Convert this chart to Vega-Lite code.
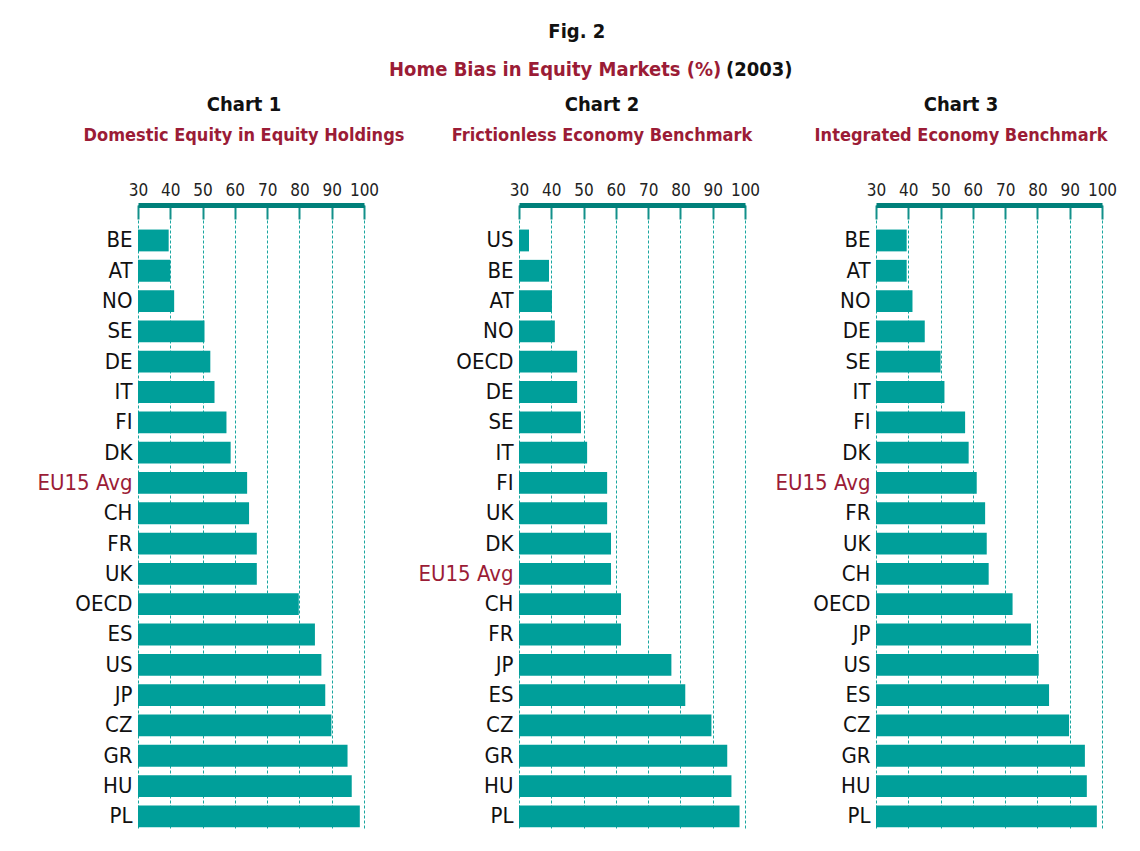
{
  "$schema": "https://vega.github.io/schema/vega-lite/v6.json",
  "background": "white",
  "padding": {"left": 37, "top": 22, "right": 5, "bottom": 5},
  "bounds": "flush",
  "spacing": 381,
  "title": {
    "text": "Fig. 2",
    "fontSize": 20,
    "fontWeight": "bold",
    "color": "#111111",
    "anchor": "middle",
    "frame": "bounds",
    "offset": 18
  },
  "datasets": {
    "c1": [
      {"country": "BE", "value": 39.5},
      {"country": "AT", "value": 40.0},
      {"country": "NO", "value": 41.2},
      {"country": "SE", "value": 50.6},
      {"country": "DE", "value": 52.4},
      {"country": "IT", "value": 53.7},
      {"country": "FI", "value": 57.4},
      {"country": "DK", "value": 58.7},
      {"country": "EU15 Avg", "value": 63.8},
      {"country": "CH", "value": 64.4},
      {"country": "FR", "value": 66.8},
      {"country": "UK", "value": 66.8},
      {"country": "OECD", "value": 79.8},
      {"country": "ES", "value": 84.8},
      {"country": "US", "value": 86.8},
      {"country": "JP", "value": 88.0},
      {"country": "CZ", "value": 89.9},
      {"country": "GR", "value": 94.9},
      {"country": "HU", "value": 96.2},
      {"country": "PL", "value": 98.7}
    ],
    "c2": [
      {"country": "US", "value": 33.1},
      {"country": "BE", "value": 39.3},
      {"country": "AT", "value": 40.2},
      {"country": "NO", "value": 41.1},
      {"country": "OECD", "value": 48.0},
      {"country": "DE", "value": 48.0},
      {"country": "SE", "value": 49.2},
      {"country": "IT", "value": 51.1},
      {"country": "FI", "value": 57.3},
      {"country": "UK", "value": 57.3},
      {"country": "DK", "value": 58.5},
      {"country": "EU15 Avg", "value": 58.5},
      {"country": "CH", "value": 61.6},
      {"country": "FR", "value": 61.6},
      {"country": "JP", "value": 77.2},
      {"country": "ES", "value": 81.5},
      {"country": "CZ", "value": 89.6},
      {"country": "GR", "value": 94.5},
      {"country": "HU", "value": 95.8},
      {"country": "PL", "value": 98.3}
    ],
    "c3": [
      {"country": "BE", "value": 39.5},
      {"country": "AT", "value": 39.5},
      {"country": "NO", "value": 41.3},
      {"country": "DE", "value": 45.1},
      {"country": "SE", "value": 50.0},
      {"country": "IT", "value": 51.2},
      {"country": "FI", "value": 57.6},
      {"country": "DK", "value": 58.7},
      {"country": "EU15 Avg", "value": 61.2},
      {"country": "FR", "value": 63.8},
      {"country": "UK", "value": 64.3},
      {"country": "CH", "value": 64.9},
      {"country": "OECD", "value": 72.3},
      {"country": "JP", "value": 78.0},
      {"country": "US", "value": 80.4},
      {"country": "ES", "value": 83.6},
      {"country": "CZ", "value": 89.8},
      {"country": "GR", "value": 94.7},
      {"country": "HU", "value": 95.3},
      {"country": "PL", "value": 98.4}
    ]
  },
  "hconcat": [
    {
      "title": {
        "text": "Home Bias in Equity Markets (%)",
        "fontSize": 20,
        "fontWeight": "bold",
        "color": "#9b1c36",
        "anchor": "start",
        "frame": "group",
        "dx": 251,
        "offset": 15
      },
      "bounds": "flush",
      "hconcat": [
        {
          "title": {"text": "Chart 1", "subtitle": "Domestic Equity in Equity Holdings", "dx": -7},
          "width": 226,
          "height": 625,
          "data": {"name": "c1"},
          "mark": {"type": "bar", "color": "#009f9a"},
          "encoding": {
            "y": {"field": "country", "type": "nominal", "sort": null,
                  "scale": {"paddingInner": 0.28, "paddingOuter": 0.45, "align": 0.9}},
            "x": {"field": "value", "type": "quantitative",
                  "scale": {"domain": [30, 100], "zero": false, "nice": false}},
            "x2": {"datum": 30}
          }
        }
      ]
    },
    {
      "title": {
        "text": "(2003)",
        "fontSize": 20,
        "fontWeight": "bold",
        "color": "#111111",
        "anchor": "start",
        "frame": "group",
        "dx": 207,
        "offset": 15
      },
      "bounds": "flush",
      "spacing": 131,
      "hconcat": [
        {
          "title": {"text": "Chart 2", "subtitle": "Frictionless Economy Benchmark", "dx": -30},
          "width": 226,
          "height": 625,
          "data": {"name": "c2"},
          "mark": {"type": "bar", "color": "#009f9a"},
          "encoding": {
            "y": {"field": "country", "type": "nominal", "sort": null,
                  "scale": {"paddingInner": 0.28, "paddingOuter": 0.45, "align": 0.9}},
            "x": {"field": "value", "type": "quantitative",
                  "scale": {"domain": [30, 100], "zero": false, "nice": false}},
            "x2": {"datum": 30}
          }
        },
        {
          "title": {"text": "Chart 3", "subtitle": "Integrated Economy Benchmark", "dx": -28},
          "width": 226,
          "height": 625,
          "data": {"name": "c3"},
          "mark": {"type": "bar", "color": "#009f9a"},
          "encoding": {
            "y": {"field": "country", "type": "nominal", "sort": null,
                  "scale": {"paddingInner": 0.28, "paddingOuter": 0.45, "align": 0.9}},
            "x": {"field": "value", "type": "quantitative",
                  "scale": {"domain": [30, 100], "zero": false, "nice": false}},
            "x2": {"datum": 30}
          }
        }
      ]
    }
  ],
  "config": {
    "font": "DejaVu Sans Condensed",
    "view": {"stroke": null},
    "title": {
      "fontSize": 20,
      "fontWeight": "bold",
      "color": "#111111",
      "subtitleFontSize": 18,
      "subtitleFontWeight": "bold",
      "subtitleColor": "#9b1c36",
      "subtitlePadding": 12,
      "anchor": "middle",
      "frame": "group",
      "offset": 36
    },
    "axisX": {
      "orient": "top",
      "values": [30, 40, 50, 60, 70, 80, 90, 100],
      "title": null,
      "domainColor": "#00807a",
      "domainWidth": 5,
      "tickColor": "#12908a",
      "tickWidth": 2,
      "tickSize": -14,
      "labelPadding": 20,
      "labelFontSize": 17,
      "labelOverlap": false,
      "labelFlush": false,
      "labelColor": "#222222",
      "grid": true,
      "gridColor": "#1aa6a0",
      "gridDash": [3, 2],
      "gridWidth": 1
    },
    "axisY": {
      "title": null,
      "ticks": false,
      "domain": false,
      "grid": false,
      "labelFontSize": 22,
      "labelPadding": 6,
      "labelColor": {"condition": {"test": "datum.value == 'EU15 Avg'", "value": "#9b1c36"}, "value": "#111111"}
    }
  }
}
